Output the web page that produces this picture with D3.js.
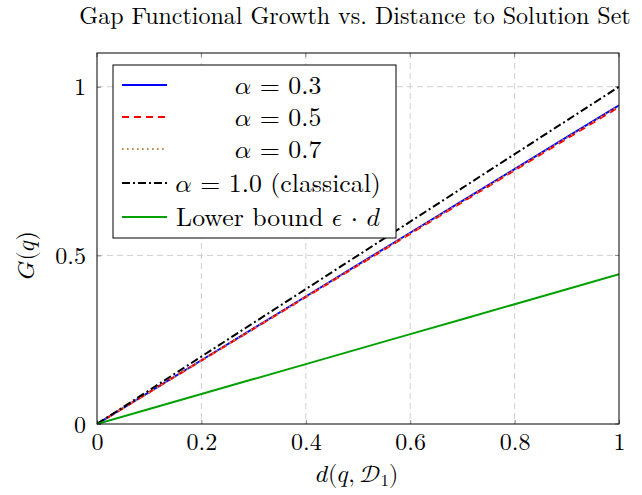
<!DOCTYPE html>
<html><head><meta charset="utf-8">
<script src="https://cdn.jsdelivr.net/npm/d3@7/dist/d3.min.js"></script>
<style>
html,body{margin:0;padding:0;background:#fff;}
svg{display:block;font-family:"Latin Modern Roman","CMU Serif",serif;}
.m{font-family:"Latin Modern Math","Latin Modern Roman",serif;}
</style></head>
<body><svg id="c" width="642" height="495"></svg>
<script>
// ---- data ----
const dVals      = [0, 0.1, 0.2, 0.3, 0.4, 0.5, 0.6, 0.7, 0.8, 0.9, 1.0];
const alpha03    = [0, 0.0945, 0.189, 0.2835, 0.378, 0.4725, 0.567, 0.6615, 0.756, 0.8505, 0.945];
const alpha05    = [0, 0.094, 0.188, 0.282, 0.376, 0.470, 0.564, 0.658, 0.752, 0.846, 0.940];
const alpha07    = [0, 0.0943, 0.1886, 0.2829, 0.3772, 0.4715, 0.5658, 0.6601, 0.7544, 0.8487, 0.943];
const alpha10    = [0, 0.1, 0.2, 0.3, 0.4, 0.5, 0.6, 0.7, 0.8, 0.9, 1.0];
const lowerBound = [0, 0.0444, 0.0888, 0.1332, 0.1776, 0.222, 0.2664, 0.3108, 0.3552, 0.3996, 0.444];
const xTicks = [0, 0.2, 0.4, 0.6, 0.8, 1];
const xTickLabels = ["0", "0.2", "0.4", "0.6", "0.8", "1"];
const yTicks = [0, 0.5, 1];
const yTickLabels = ["0", "0.5", "1"];
const xDomain = [0, 1];
const yDomain = [0, 1.1];
const title = "Gap Functional Growth vs. Distance to Solution Set";

const series = [
  {name: "alpha03", values: alpha03, color: "#0000ff", dash: null, width: 2},
  {name: "alpha05", values: alpha05, color: "#ff0000", dash: "7,5", width: 2},
  {name: "alpha07", values: alpha07, color: "#c8874a", dash: "1.6,3.4", width: 2},
  {name: "alpha10", values: alpha10, color: "#000000", dash: "8,3,2,3", width: 2},
  {name: "lower",   values: lowerBound, color: "#00a000", dash: null, width: 2}
];
// legend labels: [text, isMath]
const legendLabels = [
  [["𝛼", true], [" = 0.3", true]],
  [["𝛼", true], [" = 0.5", true]],
  [["𝛼", true], [" = 0.7", true]],
  [["𝛼", true], [" = 1.0 ", true], ["(classical)", false]],
  [["Lower bound ", false], ["𝜖 ⋅ 𝑑", true]]
];

// ---- layout ----
const W = 642, H = 495;
const m = {left: 97, right: 23, top: 53, bottom: 71};
const iw = W - m.left - m.right, ih = H - m.top - m.bottom;
const svg = d3.select("#c");
const x = d3.scaleLinear().domain(xDomain).range([m.left, m.left + iw]);
const y = d3.scaleLinear().domain(yDomain).range([m.top + ih, m.top]);

function fitSize(sel, target, base) {
  const w = sel.node().getComputedTextLength();
  const s = base * target / w;
  sel.attr("font-size", s.toFixed(2));
  return s;
}

// grid
const grid = svg.append("g").attr("stroke", "#d0d0d0").attr("stroke-width", 1).attr("stroke-dasharray", "6,4");
xTicks.filter(t => t > 0 && t < 1).forEach(t => {
  grid.append("line").attr("x1", x(t)).attr("x2", x(t)).attr("y1", m.top).attr("y2", m.top + ih);
});
yTicks.filter(t => t > 0).forEach(t => {
  grid.append("line").attr("x1", m.left).attr("x2", m.left + iw).attr("y1", y(t)).attr("y2", y(t));
});

// axes (ticks inward, gray)
const xAxis = d3.axisBottom(x).tickValues(xTicks).tickFormat((d, i) => xTickLabels[i]).tickSize(-4).tickPadding(11);
const yAxis = d3.axisLeft(y).tickValues(yTicks).tickFormat((d, i) => yTickLabels[i]).tickSize(-4).tickPadding(11);
const gx = svg.append("g").attr("transform", `translate(0,${m.top + ih})`).call(xAxis);
const gy = svg.append("g").attr("transform", `translate(${m.left},0)`).call(yAxis);
[gx, gy].forEach(g => {
  g.select(".domain").remove();
  g.selectAll(".tick line").attr("stroke", "#808080");
  g.selectAll(".tick text").attr("font-family", "Latin Modern Roman, serif").attr("font-size", 24).attr("fill", "#000");
});
gx.selectAll(".tick text").attr("dy", "0.64em");
gy.selectAll(".tick text").attr("dy", "0.34em");
// top/right ticks
const gt = svg.append("g").attr("stroke", "#808080");
xTicks.forEach(t => gt.append("line").attr("x1", x(t)).attr("x2", x(t)).attr("y1", m.top).attr("y2", m.top + 4));
yTicks.forEach(t => gt.append("line").attr("x1", m.left + iw).attr("x2", m.left + iw - 4).attr("y1", y(t)).attr("y2", y(t)));

// lines
svg.append("clipPath").attr("id", "clip").append("rect")
  .attr("x", m.left).attr("y", m.top).attr("width", iw).attr("height", ih);
const line = d3.line().x((d, i) => x(dVals[i])).y(d => y(d));
const lg = svg.append("g").attr("clip-path", "url(#clip)");
series.forEach(s => {
  lg.append("path").datum(s.values).attr("d", line)
    .attr("fill", "none").attr("stroke", s.color).attr("stroke-width", s.width)
    .attr("stroke-dasharray", s.dash);
});

// frame
svg.append("rect").attr("x", m.left).attr("y", m.top).attr("width", iw).attr("height", ih)
  .attr("fill", "none").attr("stroke", "#000").attr("stroke-width", 1);

// title (fixed size)
svg.append("text").attr("x", 355).attr("y", 24).attr("text-anchor", "middle")
  .attr("font-size", 24).text(title);

// axis labels
const xl = svg.append("text").attr("class", "m").attr("x", x(0.5) - 1).attr("y", 482).attr("text-anchor", "middle").attr("font-size", 24);
xl.append("tspan").text("𝑑(𝑞,\u2009𝒟");
xl.append("tspan").attr("font-size", 17).attr("dy", 4).text("1");
xl.append("tspan").attr("dy", -4).text(")");

svg.append("text").attr("class", "m").attr("transform", `translate(34,${y(0.5)}) rotate(-90)`)
  .attr("text-anchor", "middle").attr("font-size", 24).text("𝐺(𝑞)");

// legend
const lgx = 113, lgy = 65, lgw = 283, lgh = 173;
const leg = svg.append("g");
leg.append("rect").attr("x", lgx).attr("y", lgy).attr("width", lgw).attr("height", lgh)
  .attr("fill", "#fff").attr("stroke", "#000").attr("stroke-width", 1);
const rowY = [20, 52, 84, 118, 152];
const texts = [];
series.forEach((s, i) => {
  const ry = lgy + rowY[i];
  leg.append("line").attr("x1", lgx + 9).attr("x2", lgx + 54).attr("y1", ry).attr("y2", ry)
    .attr("stroke", s.color).attr("stroke-width", s.width).attr("stroke-dasharray", s.dash);
  const t = leg.append("text").attr("x", lgx + 165).attr("y", ry).attr("dy", "0.33em")
    .attr("text-anchor", "middle").attr("font-size", 24);
  legendLabels[i].forEach(([txt, isM]) => {
    t.append("tspan").attr("class", isM ? "m" : null).text(txt);
  });
  texts.push(t);
});
const ls = fitSize(texts[4], 204, 24);
texts.forEach(t => t.attr("font-size", ls.toFixed(2)));
</script></body></html>
